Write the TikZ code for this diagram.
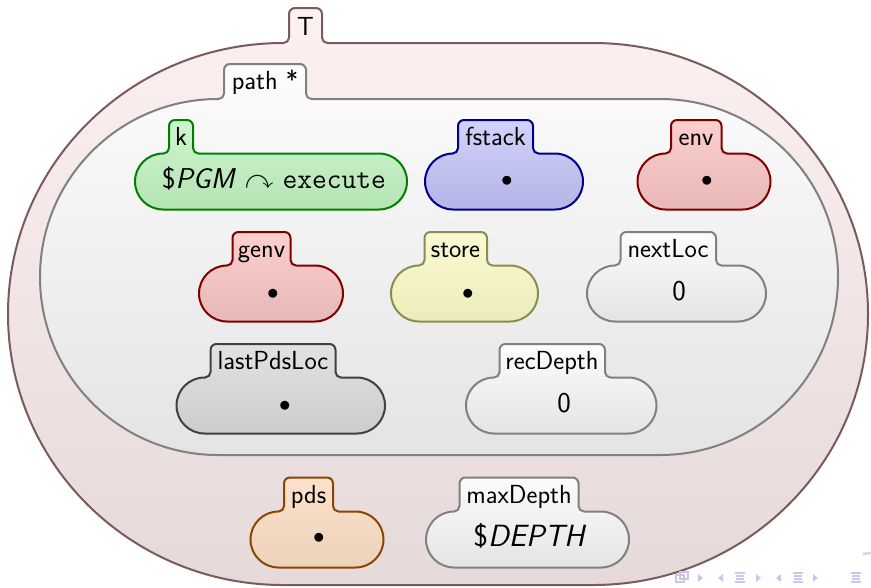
\documentclass[tikz,border=0pt]{standalone}
\usepackage{fontspec}
\usepackage{amssymb}

% cell colours (stroke, top of fill, bottom of fill)
\definecolor{tline}{RGB}{122,90,90}
\definecolor{ttop}{RGB}{252,240,240}
\definecolor{tbot}{RGB}{230,217,217}
\definecolor{gline}{RGB}{128,128,128}
\definecolor{gtop}{RGB}{252,252,252}
\definecolor{gbot}{RGB}{228,228,228}
\definecolor{kline}{RGB}{0,128,0}
\definecolor{ktop}{RGB}{206,246,206}
\definecolor{kbot}{RGB}{180,228,180}
\definecolor{bline}{RGB}{0,0,139}
\definecolor{btop}{RGB}{210,210,252}
\definecolor{bbot}{RGB}{180,180,230}
\definecolor{rline}{RGB}{128,0,0}
\definecolor{rtop}{RGB}{252,206,206}
\definecolor{rbot}{RGB}{232,184,184}
\definecolor{yline}{RGB}{140,140,80}
\definecolor{ytop}{RGB}{250,250,210}
\definecolor{ybot}{RGB}{236,236,186}
\definecolor{dline}{RGB}{64,64,64}
\definecolor{dtop}{RGB}{226,226,226}
\definecolor{dbot}{RGB}{204,204,204}
\definecolor{oline}{RGB}{139,69,0}
\definecolor{otop}{RGB}{252,226,204}
\definecolor{obot}{RGB}{236,210,186}
\definecolor{navcol}{RGB}{200,200,232}

% radii of the small fillets where a tab meets its cell, and of the tab top
\newcommand\kfillet{5.5}
\newcommand\ktabr{6}

% outline of a cell with a name tab:
% #1,#2 body top-left  #3,#4 body bottom-right  #5,#6 tab left/right  #7 tab top
% #8,#9 corner radii of the body
\newcommand\cellshape[9]{%
  ({#1+#8},#2) -- ({#5-\kfillet},#2)
  arc[start angle=90,end angle=0,radius=\kfillet] -- (#5,{#7+\ktabr})
  arc[start angle=180,end angle=270,radius=\ktabr] -- ({#6-\ktabr},#7)
  arc[start angle=270,end angle=360,radius=\ktabr] -- (#6,{#2-\kfillet})
  arc[start angle=180,end angle=90,radius=\kfillet] -- ({#3-#8},#2)
  arc[start angle=270,end angle=360,x radius=#8,y radius=#9] -- (#3,{#4-#9})
  arc[start angle=0,end angle=90,x radius=#8,y radius=#9] -- ({#1+#8},#4)
  arc[start angle=90,end angle=180,x radius=#8,y radius=#9] -- (#1,{#2+#9})
  arc[start angle=180,end angle=270,x radius=#8,y radius=#9] -- cycle}

\begin{document}
\begin{tikzpicture}[x=0.75pt,y=-0.75pt,
  cellbase/.style={line width=1.5pt},
  tcell/.style={cellbase,draw=tline,top color=ttop,bottom color=tbot},
  gcell/.style={cellbase,draw=gline,top color=gtop,bottom color=gbot},
  kcell/.style={cellbase,draw=kline,top color=ktop,bottom color=kbot},
  bcell/.style={cellbase,draw=bline,top color=btop,bottom color=bbot},
  rcell/.style={cellbase,draw=rline,top color=rtop,bottom color=rbot},
  ycell/.style={cellbase,draw=yline,top color=ytop,bottom color=ybot},
  dcell/.style={cellbase,draw=dline,top color=dtop,bottom color=dbot},
  ocell/.style={cellbase,draw=oline,top color=otop,bottom color=obot},
  lbl/.style={anchor=base,inner sep=0pt,font=\sffamily\fontsize{19.6}{22}\selectfont},
  cnt/.style={anchor=base,inner sep=0pt,font=\sffamily\fontsize{21.5}{25}\selectfont},
  cntbig/.style={cnt,font=\sffamily\fontsize{23}{27}\selectfont},
  dot/.style={anchor=center,inner sep=0pt,font=\fontsize{16}{20}\selectfont},
  navsym/.style={fill=navcol,draw=none},
  navline/.style={draw=navcol,line width=0.9pt}]
\useasboundingbox (0,0) rectangle (871,587);

% outer configuration cell
\path[tcell] \cellshape{8}{43}{868}{585}{289}{322}{8}{275}{271};
\node[lbl] (lT) at (305.5,35) {T};

% the path cell
\path[gcell] \cellshape{40}{99}{838}{455}{224}{306}{64}{178}{178};
\node[lbl] (lpath) at (265,89) {path *};

% first row
\path[kcell] \cellshape{135}{153.5}{407}{209.5}{169}{193}{120}{28}{28};
\node[lbl] (lk) at (181,145.5) {k};
\node[cnt] (ck) at (274,188) {\$\textit{PGM} $\curvearrowright$ \texttt{execute}};

\path[bcell] \cellshape{425}{153.5}{583}{209.5}{458}{533}{120}{28}{28};
\node[lbl] (lfstack) at (495.5,145.5) {fstack};
\node[dot] (cfstack) at (507,181.5) {$\bullet$};

\path[rcell] \cellshape{637.5}{153.5}{770.5}{209.5}{671}{721.5}{120}{28}{28};
\node[lbl] (lenv) at (696,145.5) {env};
\node[dot] (cenv) at (707,181.5) {$\bullet$};

% second row
\path[rcell] \cellshape{199}{265.5}{343}{321.5}{232.5}{290.5}{232}{28}{28};
\node[lbl] (lgenv) at (261.5,257.5) {genv};
\node[dot] (cgenv) at (273,294) {$\bullet$};

\path[ycell] \cellshape{391}{265.5}{538}{321.5}{424.5}{487}{232}{28}{28};
\node[lbl] (lstore) at (455.5,257.5) {store};
\node[dot] (cstore) at (468,294) {$\bullet$};

\path[gcell] \cellshape{587}{265.5}{766}{321.5}{620.5}{716}{232}{28}{28};
\node[lbl] (lnextloc) at (668,257.5) {nextLoc};
\node[cnt] (cnextloc) at (679,300.5) {0};

% third row
\path[dcell] \cellshape{176.5}{377.5}{385}{433.5}{210.5}{335.5}{344}{28}{28};
\node[lbl] (llastpds) at (273,369.5) {lastPdsLoc};
\node[dot] (clastpds) at (285,406) {$\bullet$};

\path[gcell] \cellshape{466}{377.5}{656.5}{433.5}{499.5}{605}{344}{28}{28};
\node[lbl] (lrecdepth) at (552,369.5) {recDepth};
\node[cnt] (crecdepth) at (564,412.5) {0};

% cells below the path cell
\path[ocell] \cellshape{250.5}{511.5}{383.5}{567.5}{284}{333}{477.5}{28}{28};
\node[lbl] (lpds) at (308.5,503.5) {pds};
\node[dot] (cpds) at (319,538.5) {$\bullet$};

\path[gcell] \cellshape{426}{511.5}{629}{567.5}{459.5}{578.5}{477.5}{28}{28};
\node[lbl] (lmaxdepth) at (519,503.5) {maxDepth};
\node[cntbig] (cmaxdepth) at (530,546.5) {\$\textit{DEPTH}};

% navigation symbols in the lower right corner
\draw[navline] (676,575) rectangle (684,582);
\draw[navline] (680,572) rectangle (688,579);
\fill[navsym] (698,574) -- (703,578) -- (698,582) -- cycle;
\fill[navsym] (723,574) -- (718,578) -- (723,582) -- cycle;
\draw[navline] (735,573) -- (745,573) (736,576) -- (744,576) (736,579) -- (744,579) (735,582) -- (745,582);
\fill[navsym] (756,574) -- (761,578) -- (756,582) -- cycle;
\fill[navsym] (781,574) -- (776,578) -- (781,582) -- cycle;
\draw[navline] (793,573) -- (803,573) (794,576) -- (802,576) (794,579) -- (802,579) (793,582) -- (803,582);
\fill[navsym] (813,574) -- (818,578) -- (813,582) -- cycle;
\draw[navline] (851,573) -- (861,573) (852,576) -- (860,576) (852,579) -- (860,579) (851,582) -- (861,582);
\draw[draw=black!15,line width=2pt] (863,554) -- (871,553);
\end{tikzpicture}
\end{document}
